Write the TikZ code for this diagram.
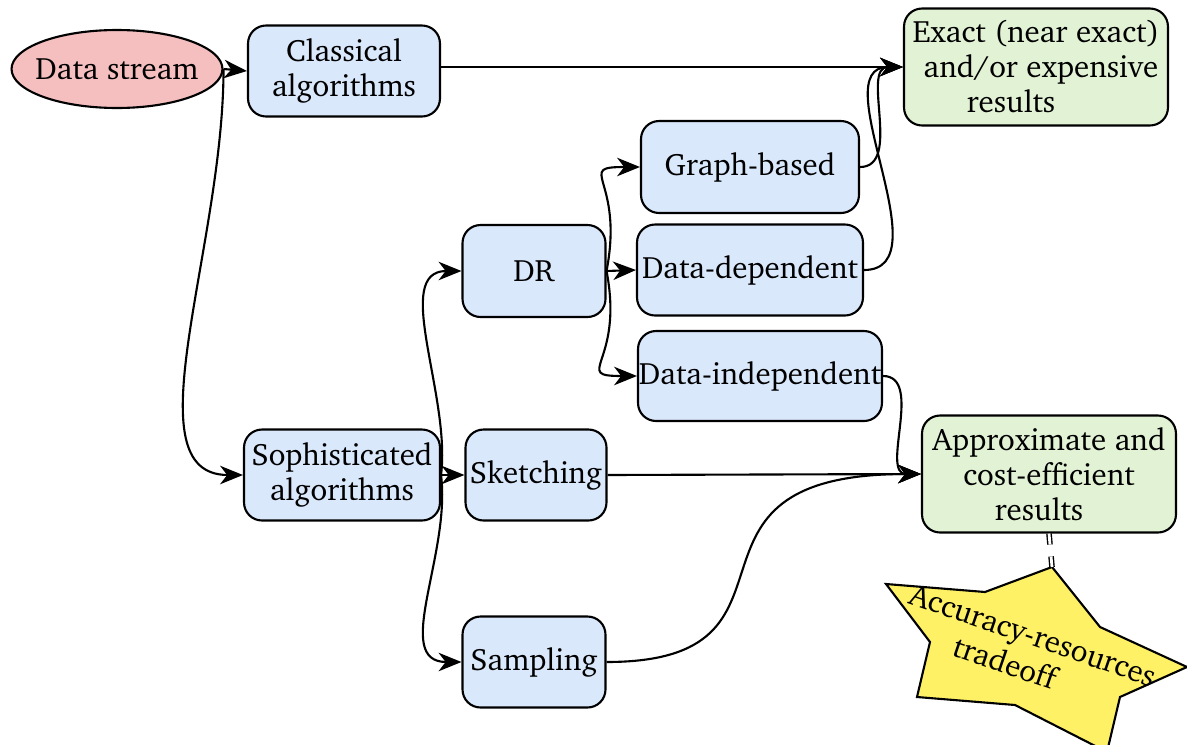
\documentclass[tikz,border=0pt]{standalone}
\usepackage[T1]{fontenc}
\usepackage{charter}
\usetikzlibrary{shapes.geometric,arrows.meta}

\definecolor{dspink}{RGB}{245,191,191}
\definecolor{algblue}{RGB}{218,232,252}
\definecolor{resgreen}{RGB}{226,242,213}
\definecolor{staryellow}{RGB}{255,241,102}

\tikzset{
  alg/.style={draw,fill=algblue,rounded corners=0.36cm,align=center,inner sep=0pt},
  res/.style={draw,fill=resgreen,rounded corners=0.36cm,align=center,inner sep=0pt},
  flow/.style={-{Stealth[length=13pt,width=10.5pt,inset=4pt]}},
}

\begin{document}
\begin{tikzpicture}[x=0.02cm,y=-0.02cm,line width=1.2pt,font=\fontsize{17.6}{20}\selectfont]
    \useasboundingbox (0,0) rectangle (1187,744);
    % sources and algorithm families
    \node[ellipse,draw,fill=dspink,minimum width=4.2cm,minimum height=1.56cm,inner xsep=-0.14cm,inner ysep=0pt] (ds) at (117,69) {Data stream};
    \node[alg,minimum width=3.84cm,minimum height=1.82cm] (cl) at (344,71) {Classical\\algorithms};
    \node[alg,minimum width=3.92cm,minimum height=1.82cm] (soph) at (342,475) {Sophisticated\\algorithms};
    \node[alg,minimum width=2.86cm,minimum height=1.84cm] (dr) at (534,271) {DR};
    \node[alg,minimum width=2.82cm,minimum height=1.82cm] (sketch) at (536,475) {Sketching};
    \node[alg,minimum width=2.86cm,minimum height=1.82cm] (samp) at (534,662) {Sampling};
    \node[alg,minimum width=4.36cm,minimum height=1.84cm] (graph) at (750,167) {Graph-based};
    \node[alg,minimum width=4.52cm,minimum height=1.82cm] (dep) at (750,270) {Data-dependent};
    \node[alg,minimum width=4.88cm,minimum height=1.80cm] (indep) at (760,376) {Data-independent};
    % results
    \node[res,minimum width=5.28cm,minimum height=2.34cm] (exact) at (1036,67) {Exact (near exact)\\\hspace*{0.2cm}and/or expensive\\results\hspace*{1cm}};
    \node[res,minimum width=5.08cm,minimum height=2.34cm] (approx) at (1049,474) {Approximate and\\cost-efficient\\results\hspace*{0.4cm}};
    % tradeoff star
    \draw[fill=staryellow] (1052,567) -- (1100,627) -- (1187,667) -- (1120,697) -- (1107,752)
         -- (1015,705) -- (917,697) -- (930,642) -- (886,584) -- (985,592) -- cycle;
    \coordinate (startop) at (1052,567);
    \node[rotate=-19,align=center] (trade) at (1027,652) {Accuracy-resources\\tradeoff\hspace*{0.7cm}};

    \draw[flow] (ds.east) -- (cl.west);
    \draw[flow] (ds.east) .. controls +(0,180) and +(-114,0) .. (soph.west);
    \draw[flow] (cl.east |- exact.west) -- (exact.west);
    \draw[flow] (graph.east) to[out=0,in=180] (exact.west);
    \draw[flow] (dep.east) to[out=0,in=180] (exact.west);
    \draw[flow] (soph.east) -- (sketch.west);
    \draw[flow] (soph.east) .. controls +(10,-80) and +(-70,0) .. (dr.west);
    \draw[flow] (soph.east) .. controls +(10,80) and +(-70,0) .. (samp.west);
    \draw[flow] (dr.east) .. controls +(18,-93) and +(-66,0) .. (graph.west);
    \draw[flow] (dr.east) -- (dep.west);
    \draw[flow] (dr.east) .. controls +(18,93) and +(-66,0) .. (indep.west);
    \draw[flow] (sketch.east) -- (approx.west);
    \draw[flow] (indep.east) to[out=0,in=180] (approx.west);
    \draw[flow] (samp.east) .. controls +(220,0) and +(-270,0) .. (approx.west);
    \draw[line width=0.8pt,double,double distance=1.6pt,dash pattern=on 0.22cm off 0.24cm] (approx.south) -- (startop);
\end{tikzpicture}
\end{document}
